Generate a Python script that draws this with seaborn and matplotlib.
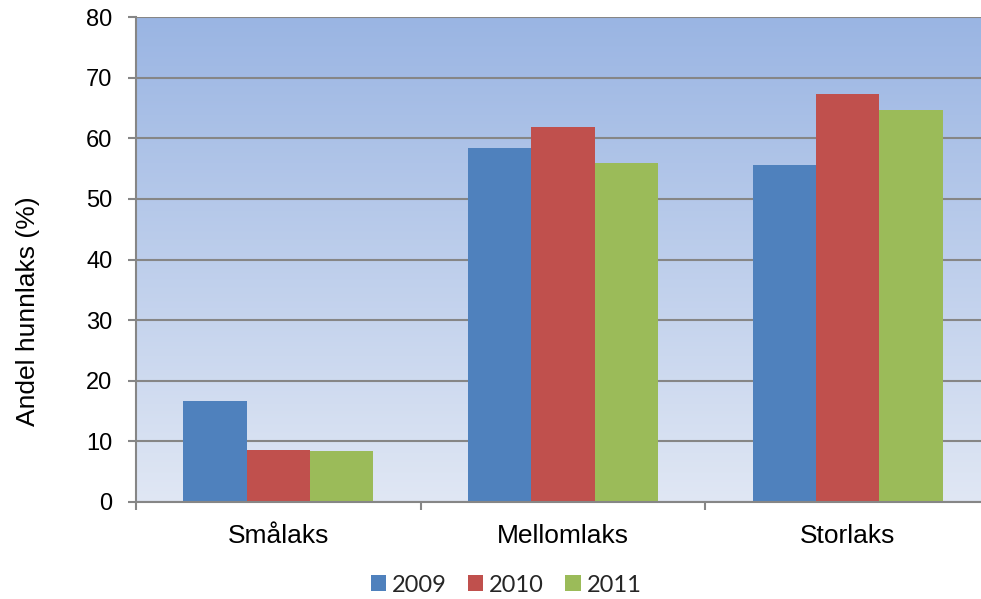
import numpy as np
import pandas as pd
import matplotlib
matplotlib.use("Agg")
import matplotlib.pyplot as plt
import seaborn as sns
from matplotlib.colors import LinearSegmentedColormap
from matplotlib.patches import Patch

# Share of female salmon per size class and year
categories = ["Smålaks", "Mellomlaks", "Storlaks"]
years = ["2009", "2010", "2011"]
v2009 = [16.6, 58.4, 55.6]
v2010 = [8.5, 61.8, 67.3]
v2011 = [8.4, 55.9, 64.6]
yticks = [0, 10, 20, 30, 40, 50, 60, 70, 80]
colors = ["#4F81BD", "#C0504D", "#9BBB59"]

df = pd.DataFrame({
    "Kategori": categories * 3,
    "År": np.repeat(years, len(categories)),
    "Andel": v2009 + v2010 + v2011,
})

sns.set_theme(style="white")
plt.rcParams["font.family"] = ["Liberation Sans", "DejaVu Sans"]

W, H = 981, 599
fig = plt.figure(figsize=(W / 100, H / 100), dpi=100)
ax = fig.add_axes([136 / W, 1 - 502 / H, 1 - 136 / W, (502 - 17) / H])

sns.barplot(data=df, x="Kategori", y="Andel", hue="År", palette=colors,
            width=0.667, gap=0, saturation=1, linewidth=0, legend=False, ax=ax)

# vertical gradient fill behind the plot
grad = LinearSegmentedColormap.from_list("bg", ["#E0E7F4", "#9AB5E3"])
ax.imshow(np.linspace(1, 0, 256).reshape(-1, 1), cmap=grad, aspect="auto",
          extent=[-0.5, 2.5, 0, 80], zorder=-1, interpolation="bicubic")

ax.set_xlim(-0.5, 2.468)
ax.set_ylim(0, 80)
ax.set_yticks(yticks)

grid_c = "#868686"
ax.set_axisbelow(True)
ax.yaxis.grid(True, color=grid_c, linewidth=1.5)
ax.xaxis.grid(False)
for side in ["top", "right"]:
    ax.spines[side].set_visible(False)
for side in ["left", "bottom"]:
    ax.spines[side].set_color(grid_c)
    ax.spines[side].set_linewidth(1.5)

ax.set_xticks([-0.5, 0.5, 1.5], minor=True)
ax.tick_params(axis="x", which="minor", bottom=True, length=6, width=1.5,
               color=grid_c, direction="out")
ax.tick_params(axis="x", which="major", bottom=True, length=0, pad=16,
               labelsize=19, labelcolor="black")
ax.tick_params(axis="y", left=True, length=6, width=1.5, color=grid_c,
               direction="out", pad=11, labelsize=17, labelcolor="black")

ax.set_xlabel("")
ax.set_ylabel("Andel hunnlaks (%)", fontsize=19, color="black")
ax.yaxis.set_label_coords((40 - 136) / 845, (502 - 311) / 485)

handles = [Patch(facecolor=c, edgecolor="none", label=y) for c, y in zip(colors, years)]
fig.legend(handles=handles, loc="center", bbox_to_anchor=(506 / W, 1 - 585 / H),
           ncol=3, frameon=False, handlelength=0.65, handleheight=0.65,
           handletextpad=0.25, columnspacing=0.9,
           prop={"family": "Lato", "size": 17})

fig.savefig("out.png", dpi=100)
